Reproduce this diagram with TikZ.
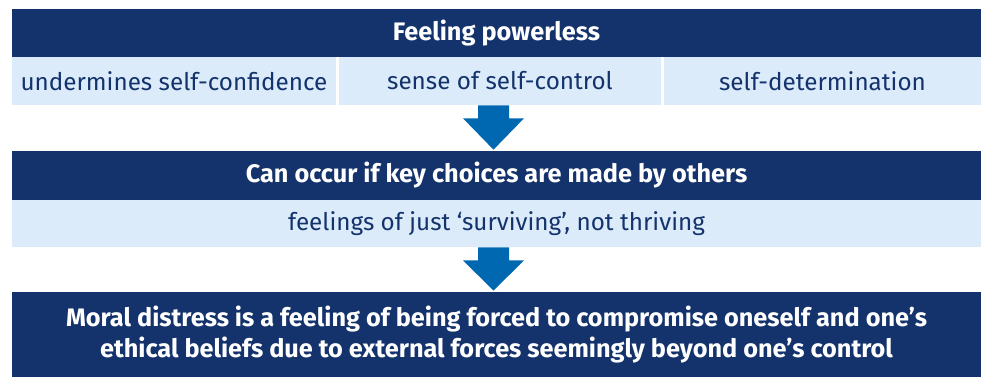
\documentclass[tikz,border=0pt]{standalone}
\usepackage{fontspec}
\setmainfont{Fira Sans}
\usetikzlibrary{calc}

\definecolor{navy}{RGB}{20,51,108}
\definecolor{paleblue}{RGB}{219,235,250}
\definecolor{arrowblue}{RGB}{0,103,177}

\tikzset{
  bar/.style={fill=navy, text=white, font=\fontsize{14.4}{17.2}\selectfont\bfseries,
    minimum width=19.38cm, inner sep=0pt, align=center},
  cell/.style={fill=paleblue, text=navy, font=\fontsize{13.8}{17}\selectfont,
    minimum height=0.96cm, inner sep=0pt}
}

% block arrow from the bottom of one box to the top of the next
\newcommand{\flowarrow}[2]{%
  \fill[arrowblue] ($(#1 -| #2)+(-18.5,0)$) -- ($(#1 -| #2)+(12.5,0)$)
    -- ($(#1 -| #2)+(12.5,13)$) -- ($(#1 -| #2)+(27.5,13)$)
    -- ($(#2)+(-3,-1)$)
    -- ($(#1 -| #2)+(-33.5,13)$) -- ($(#1 -| #2)+(-18.5,13)$) -- cycle;}

\begin{document}
\begin{tikzpicture}[x=0.02cm, y=-0.02cm]
	\useasboundingbox (0,0) rectangle (981,377);
	% first step
	\node[bar, minimum height=0.96cm] (feel) at (496.5,33) {Feeling powerless};
	\node[cell, minimum width=6.48cm] (conf) at (174,81) {undermines self-confidence};
	\node[cell, minimum width=6.44cm] (ctrl) at (500,81) {sense of self-control};
	\node[cell, minimum width=6.34cm] (det) at (822.5,81) {self-determination};
	% second step
	\node[bar, minimum height=0.98cm] (occur) at (496.5,175.5) {Can occur if key choices are made by others};
	\node[cell, minimum width=19.38cm, minimum height=0.94cm] (surv) at (496.5,223.5) {feelings of just ‘surviving’, not thriving};
	% result
	\node[bar, minimum height=1.7cm] (moral) at (496.5,334.5) {Moral distress is a feeling of being forced to compromise oneself and one’s\\ethical beliefs due to external forces seemingly beyond one’s control};
	\flowarrow{ctrl.south}{occur.north}
	\flowarrow{surv.south}{moral.north}
\end{tikzpicture}
\end{document}
